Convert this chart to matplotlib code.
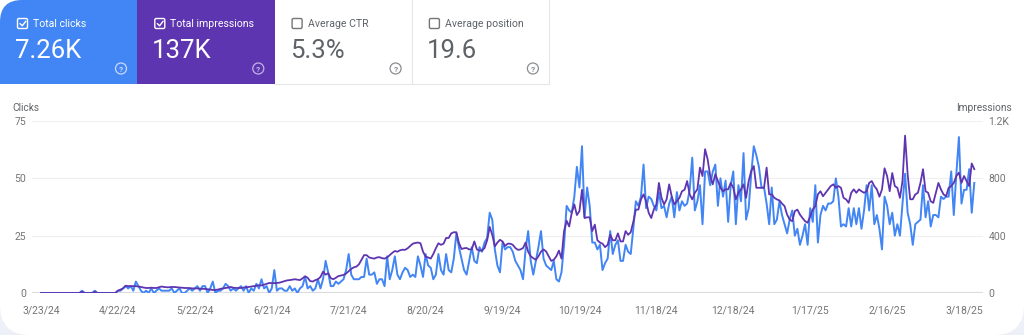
"""Search performance overview: clicks and impressions over the last 12 months."""

import pandas as pd
import matplotlib
matplotlib.use("Agg")
import matplotlib.pyplot as plt
from matplotlib.patches import FancyBboxPatch, Rectangle, Circle

plt.rcParams["font.family"] = ["Roboto", "DejaVu Sans"]

BLUE = "#4285f4"
PURPLE = "#5e35b1"
GREY_TEXT = "#5f6368"
AXIS_TEXT = "#757575"

START = "2024-03-23"

# daily clicks
clicks = [
    0, 0, 0, 0, 0, 0, 0, 0, 0, 0,
    0, 0, 0, 0, 0, 0, 1, 0, 0, 0,
    0, 1, 0, 0, 0, 0, 0, 0, 0, 0,
    1, 1, 2, 3, 2, 3, 1, 5, 3, 1,
    0, 1, 0, 2, 0, 1, 2, 1, 1, 1,
    1, 2, 0, 1, 2, 0, 0, 1, 2, 1,
    2, 3, 1, 3, 3, 0, 2, 5, 0, 1,
    1, 2, 4, 3, 1, 2, 1, 2, 3, 1,
    3, 0, 2, 1, 4, 2, 6, 2, 3, 0,
    2, 10, 1, 2, 2, 1, 1, 3, 1, 2,
    0, 2, 3, 7, 2, 3, 1, 2, 6, 2,
    6, 14, 9, 3, 3, 5, 4, 5, 6, 10,
    17, 8, 6, 6, 6, 7, 7, 15, 8, 8,
    9, 4, 6, 6, 3, 16, 6, 10, 16, 8,
    6, 9, 11, 10, 7, 8, 7, 16, 12, 7,
    17, 12, 11, 6, 8, 17, 10, 8, 17, 10,
    9, 15, 26, 20, 15, 10, 8, 14, 20, 14,
    13, 20, 18, 22, 24, 35, 32, 19, 12, 9,
    22, 19, 20, 20, 18, 14, 12, 10, 6, 19,
    27, 14, 8, 14, 20, 27, 15, 12, 11, 10,
    14, 6, 5, 9, 21, 38, 36, 35, 42, 55,
    46, 64, 33, 46, 38, 22, 22, 19, 21, 10,
    13, 15, 27, 17, 21, 23, 14, 14, 21, 18,
    17, 28, 40, 38, 42, 56, 37, 42, 41, 38,
    36, 44, 37, 38, 33, 39, 42, 33, 44, 36,
    40, 38, 39, 45, 59, 36, 40, 47, 30, 53,
    53, 47, 53, 56, 38, 50, 42, 49, 31, 47,
    53, 30, 47, 40, 61, 32, 37, 52, 64, 60,
    55, 46, 46, 39, 30, 46, 30, 32, 40, 34,
    30, 26, 32, 36, 25, 28, 21, 25, 30, 21,
    37, 31, 47, 22, 34, 38, 36, 39, 39, 40,
    50, 42, 29, 30, 29, 37, 29, 37, 30, 37,
    28, 36, 47, 36, 47, 30, 34, 28, 19, 42,
    38, 30, 35, 25, 30, 25, 39, 52, 35, 30,
    21, 30, 31, 32, 47, 33, 40, 29, 34, 34,
    33, 42, 41, 42, 42, 53, 34, 52, 68, 39,
    45, 45, 54, 35, 48,
]

# daily impressions
impressions = [
    0, 0, 0, 0, 0, 0, 0, 0, 0, 0,
    0, 0, 0, 0, 0, 0, 8, 0, 0, 0,
    0, 8, 0, 0, 0, 0, 0, 0, 0, 0,
    16, 24, 32, 51, 48, 48, 48, 48, 45, 42,
    38, 35, 35, 37, 35, 35, 40, 45, 42, 40,
    40, 42, 42, 40, 38, 37, 35, 35, 34, 32,
    32, 32, 30, 29, 29, 26, 24, 21, 21, 24,
    29, 32, 35, 38, 42, 37, 35, 35, 35, 38,
    40, 42, 45, 48, 51, 54, 53, 58, 64, 70,
    69, 69, 70, 72, 77, 83, 88, 90, 93, 96,
    93, 90, 102, 117, 106, 83, 80, 90, 96, 112,
    149, 128, 138, 104, 96, 106, 118, 122, 126, 136,
    152, 168, 179, 184, 200, 232, 264, 264, 248, 243,
    240, 248, 250, 243, 240, 248, 264, 280, 293, 288,
    298, 302, 301, 312, 328, 344, 349, 352, 347, 288,
    253, 248, 240, 272, 312, 347, 336, 344, 384, 384,
    416, 424, 424, 349, 307, 312, 314, 304, 304, 360,
    304, 296, 296, 314, 368, 461, 406, 325, 352, 371,
    360, 328, 344, 344, 336, 314, 301, 304, 314, 352,
    288, 256, 243, 232, 256, 288, 304, 290, 256, 224,
    232, 256, 296, 240, 432, 504, 464, 560, 618, 544,
    571, 720, 523, 528, 528, 432, 477, 368, 352, 344,
    320, 336, 406, 368, 368, 416, 360, 360, 432, 406,
    424, 496, 582, 582, 653, 688, 640, 560, 523, 582,
    618, 768, 664, 618, 653, 758, 672, 618, 640, 664,
    710, 720, 781, 688, 653, 699, 723, 875, 816, 1003,
    933, 816, 758, 829, 781, 734, 710, 723, 723, 768,
    734, 653, 699, 723, 758, 664, 781, 851, 886, 734,
    734, 734, 734, 875, 688, 688, 664, 653, 646, 624,
    606, 547, 512, 501, 571, 582, 547, 523, 501, 490,
    536, 582, 606, 688, 710, 675, 699, 723, 746, 758,
    734, 746, 734, 664, 653, 629, 699, 723, 699, 723,
    710, 699, 710, 768, 781, 746, 723, 672, 723, 870,
    816, 710, 837, 746, 734, 664, 781, 1098, 829, 654,
    654, 688, 699, 768, 864, 710, 699, 640, 629, 699,
    768, 723, 688, 675, 734, 746, 768, 816, 840, 768,
    816, 781, 746, 904, 864,
]

card_labels = ["Total clicks", "Total impressions", "Average CTR", "Average position"]
card_values = ["7.26K", "137K", "5.3%", "19.6"]
card_checked = [True, True, False, False]
card_fill = [BLUE, PURPLE, None, None]

clicks_ticks = [0, 25, 50, 75]
impr_ticks = [0, 400, 800, 1200]
impr_tick_labels = ["0", "400", "800", "1.2K"]

dates = pd.date_range(START, periods=len(clicks), freq="D")

W, H = 1024, 335
fig = plt.figure(figsize=(W / 100, H / 100), dpi=100, facecolor="white")

# pixel-space canvas for the card, metric tiles and captions
bg = fig.add_axes([0, 0, 1, 1])
bg.set_xlim(0, W)
bg.set_ylim(H, 0)
bg.axis("off")

bg.add_patch(Rectangle((0, 170), W, H - 170, fc="#eef0f8", ec="none"))
bg.add_patch(FancyBboxPatch((0, -60), W, H + 60, boxstyle="round,pad=0,rounding_size=30",
                            fc="white", ec="none"))

tile_w, tile_h = 137.3, 84
for i, (label, value, checked, fill) in enumerate(zip(card_labels, card_values, card_checked, card_fill)):
    x0 = i * tile_w
    if fill:
        if i == 0:
            # only the outer top-left corner is rounded
            bg.add_patch(FancyBboxPatch((x0, 0), tile_w, tile_h, boxstyle="round,pad=0,rounding_size=22",
                                        fc=fill, ec="none"))
            bg.add_patch(Rectangle((x0 + 22, 0), tile_w - 22, tile_h, fc=fill, ec="none"))
            bg.add_patch(Rectangle((x0, 22), tile_w, tile_h - 22, fc=fill, ec="none"))
        else:
            bg.add_patch(Rectangle((x0, 0), tile_w, tile_h, fc=fill, ec="none"))
        fg, box_col, help_col = "white", "white", "#c9dafc" if i == 0 else "#c3b2e6"
    else:
        fg, box_col, help_col = GREY_TEXT, "#757575", "#8a8d91"

    bg.add_patch(FancyBboxPatch((x0 + 17.5, 18.5), 10, 10, boxstyle="round,pad=0,rounding_size=1.5",
                                fc="none", ec=box_col, lw=1.0))
    if checked:
        bg.plot([x0 + 20, x0 + 22.3, x0 + 25.8], [23.6, 25.8, 21.2], color=box_col, lw=1.0,
                solid_capstyle="round")
    bg.text(x0 + 33, 24, label, ha="left", va="center", fontsize=7.6, color=fg)
    bg.text(x0 + 15, 51, value, ha="left", va="center", fontsize=18.5, color=fg)
    bg.add_patch(Circle((x0 + 121, 68.5), 5.5, fc="none", ec=help_col, lw=0.9))
    bg.text(x0 + 121, 69, "?", ha="center", va="center", fontsize=6, color=help_col,
            fontweight="bold")

# borders of the unselected tiles
line_col = "#e6e6e6"
bg.plot([3 * tile_w, 3 * tile_w], [0, tile_h], color=line_col, lw=0.8)
bg.plot([4 * tile_w, 4 * tile_w], [0, tile_h], color=line_col, lw=0.8)
bg.plot([2 * tile_w, 4 * tile_w], [tile_h, tile_h], color=line_col, lw=0.8)

bg.text(12, 108, "Clicks", ha="left", va="center", fontsize=7.3, color=GREY_TEXT)
bg.text(1012, 108, "Impressions", ha="right", va="center", fontsize=7.3, color=GREY_TEXT)

# chart
left_px, right_px, top_px, base_px = 32, 983, 121, 293
ax = fig.add_axes([left_px / W, (H - base_px) / H, (right_px - left_px) / W, (base_px - top_px) / H])
ax.patch.set_visible(False)
ax2 = ax.twinx()

ax.plot(dates, clicks, color=BLUE, lw=1.4, zorder=3)
ax2.plot(dates, impressions, color=PURPLE, lw=1.3, zorder=3)

px_per_day = 2.564
ax.set_xlim(dates[0] - pd.Timedelta(days=(41 - left_px) / px_per_day),
            dates[0] + pd.Timedelta(days=(right_px - 41) / px_per_day))
ax.set_ylim(0, 75)
ax2.set_ylim(0, 1200)

ax.set_yticks(clicks_ticks)
ax.set_yticklabels([str(t) for t in clicks_ticks])
ax2.set_yticks(impr_ticks)
ax2.set_yticklabels(impr_tick_labels)

tick_dates = dates[::30]
ax.set_xticks(tick_dates)
ax.set_xticklabels([f"{d.month}/{d.day}/{d:%y}" for d in tick_dates])

ax.yaxis.grid(True, color="#efefef", lw=0.8)
ax.set_axisbelow(True)
ax.axhline(0, color="#dadce0", lw=1.6, zorder=2)

for a in (ax, ax2):
    for s in a.spines.values():
        s.set_visible(False)
    a.tick_params(length=0, labelsize=7.5, labelcolor=AXIS_TEXT)
ax.tick_params(axis="x", pad=9)
ax.tick_params(axis="y", pad=4)
ax2.tick_params(axis="y", pad=4)

fig.savefig("out.png", dpi=100, facecolor=fig.get_facecolor())
